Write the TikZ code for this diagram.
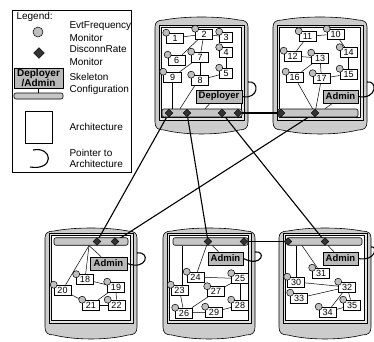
\documentclass[tikz,border=0pt]{standalone}
\usepackage{fontspec}
\setmainfont{Liberation Sans}
\usetikzlibrary{shapes.geometric}
\pgfdeclarelayer{devl}
\pgfdeclarelayer{linel}
\pgfsetlayers{devl,linel,main}
\definecolor{devfill}{gray}{0.80}
\definecolor{bandfill}{gray}{0.90}
\tikzset{
  devline/.style={draw=black, line width=0.6},
  archbox/.style={draw=black, fill=white, line width=0.6, inner sep=0pt, minimum width=17, minimum height=10, font=\fontsize{9}{10}\selectfont},
  evt/.style={circle, draw=black, fill=gray!50, line width=0.5, inner sep=0pt, minimum size=7},
  dis/.style={diamond, draw=black, fill=black!80, inner sep=0pt, minimum size=8},
  cfg/.style={draw=black, fill=gray!55, line width=0.6, inner sep=1pt, minimum height=13, font=\bfseries\fontsize{9.5}{11}\selectfont},
  skbar/.style={draw=black, fill=gray!45, line width=0.6, rounded corners=2, inner sep=0pt, minimum height=8},
  link/.style={line width=0.5},
  xlink/.style={line width=1.1},
  ptr/.style={line width=1.1},
  legtext/.style={anchor=west, align=left, font=\fontsize{10}{13}\selectfont},
}
\newcommand\devbody[6]{%
\draw[devline, fill=devfill] ({#1},{#4-12}) -- ({#1},{#2+10}) .. controls ({#1},{#2+5}) and ({#1+3},{#2+3}) .. ({#1+9},{#2+3}) .. controls ({#1+30},{#2-1}) and ({#3-30},{#2-1}) .. ({#3-9},{#2+3}) .. controls ({#3-3},{#2+3}) and ({#3},{#2+5}) .. ({#3},{#2+10}) -- ({#3},{#4-12}) .. controls ({#3},{#4-6}) and ({#3-3},{#4-4}) .. ({#3-9},{#4-4}) .. controls ({#3-30},{#4+1.3}) and ({#1+30},{#4+1.3}) .. ({#1+9},{#4-4}) .. controls ({#1+3},{#4-4}) and ({#1},{#4-6}) .. cycle;
\draw[devline, fill=bandfill] ({#1+4},{#5}) rectangle ({#3-4},{#6});
\draw[devline, fill=white] ({#1+6.5},{#5+2.5}) rectangle ({#3-6.5},{#6-2.5});
}
\newcommand\archn[4]{\node[archbox] (n#1) at (#2,#3) {#4}; \node[evt] (c#1) at (n#1.north west) {};}
\newcommand\archw[5]{\node[archbox, minimum width=#5] (n#1) at (#2,#3) {#4}; \node[evt] (c#1) at (n#1.north west) {};}
\begin{document}
\begin{tikzpicture}[x=1pt,y=-1pt]
\useasboundingbox (0,0) rectangle (374,341);

% ---------- legend ----------
\draw[line width=0.6] (12,10) rectangle (131,172);
\node[anchor=west, font=\fontsize{10}{12}\selectfont] (lg) at (13,17) {Legend:};
\node[evt, minimum size=10] (lgc) at (38,32) {};
\node[dis, minimum size=11] (lgd) at (39,53) {};
\node[cfg, minimum width=49, minimum height=20, align=center, inner sep=0pt, font=\bfseries\fontsize{10}{10}\selectfont] (lgcfg) at (38.5,78) {Deployer\\/Admin};
\node[skbar, minimum width=49, minimum height=6] (lgbar) at (38.5,96) {};
\draw[link] (lgcfg) -- (lgbar);
\node[draw, line width=0.6, minimum width=27, minimum height=32] (lgarch) at (38.5,127) {};
\coordinate (lgp1) at (33,150);
\coordinate (lgp2) at (30,167);
\draw[ptr] (lgp1) .. controls (53,146) and (55,171) .. (lgp2);
\node[legtext] (lt1) at (66,31.5) {EvtFrequency\\Monitor};
\node[legtext] (lt2) at (66,55) {DisconnRate\\Monitor};
\node[legtext, font=\fontsize{10}{12}\selectfont] (lt3) at (66,83.5) {Skeleton\\Configuration};
\node[legtext] (lt4) at (66,127) {Architecture};
\node[legtext, font=\fontsize{10}{11}\selectfont] (lt5) at (66,158) {Pointer to\\Architecture};

% ---------- device bodies ----------
\begin{pgfonlayer}{devl}
\devbody{155}{17}{248}{134}{25}{120}
\devbody{273}{17}{367}{134}{25}{120}
\devbody{45}{228}{137}{339}{233}{323}
\devbody{163}{228}{255}{339}{233}{323}
\devbody{279}{228}{371}{339}{233}{323}
\end{pgfonlayer}

% ---------- bars ----------
\node[skbar, minimum width=80] (barT1) at (202,113) {};
\node[skbar, minimum width=80] (barT2) at (318,113) {};
\node[skbar, minimum width=74, minimum height=7.5] (barB1) at (91,241.5) {};
\node[skbar, minimum width=75, minimum height=7.5] (barB2) at (210.5,241.5) {};
\node[skbar, minimum width=75, minimum height=7.5] (barB3) at (324.5,241.5) {};

% ---------- configuration nodes ----------
\node[cfg, minimum width=46] (cfgT1) at (219,96.5) {Deployer};
\node[cfg, minimum width=35] (cfgT2) at (340.5,96.5) {Admin};
\node[cfg, minimum width=37] (cfgB1) at (108.5,263.5) {Admin};
\node[cfg, minimum width=35] (cfgB2) at (225.5,258.5) {Admin};
\node[cfg, minimum width=35] (cfgB3) at (340.5,258.5) {Admin};

% ---------- diamonds ----------
\node[dis] (dT1a) at (169,113) {};
\node[dis] (dT1b) at (187,113) {};
\node[dis] (dT1c) at (222,113) {};
\node[dis] (dT1d) at (238,113) {};
\node[dis] (dT2a) at (281,113) {};
\node[dis] (dT2b) at (315,113) {};
\node[dis] (dB1a) at (97,241.5) {};
\node[dis] (dB1b) at (115,241.5) {};
\node[dis] (dB2a) at (208,241.5) {};
\node[dis] (dB2b) at (244,241.5) {};
\node[dis] (dB3a) at (288,241.5) {};
\node[dis] (dB3b) at (325,241.5) {};

% ---------- architecture boxes ----------
\archn{1}{175}{38}{1}
\archn{2}{204}{34}{2}
\archw{3}{226}{37}{3}{13}
\archw{4}{226}{52.5}{4}{13}
\archw{5}{226}{73}{5}{13}
\archn{6}{176.5}{60}{6}
\archn{7}{200}{57}{7}
\archn{8}{200}{80}{8}
\archw{9}{172.5}{77}{9}{18}

\archn{11}{307.5}{36.5}{11}
\archn{10}{335.5}{34}{10}
\archn{12}{292.5}{56}{12}
\archn{13}{320}{58}{13}
\archn{14}{348.5}{52.5}{14}
\archn{15}{348.5}{74}{15}
\archn{16}{294.5}{77}{16}
\archn{17}{321.5}{78.5}{17}

\archn{18}{85}{279.5}{18}
\archn{19}{116}{287}{19}
\archn{20}{62.5}{290}{20}
\archn{21}{91}{305}{21}
\archn{22}{116.5}{305}{22}

\archn{24}{195.5}{277}{24}
\archn{25}{240}{278.5}{25}
\archn{23}{179.5}{290}{23}
\archn{27}{216}{291.5}{27}
\archn{28}{240}{305}{28}
\archn{26}{184}{313}{26}
\archn{29}{214}{312}{29}

\archn{31}{321}{273}{31}
\archn{30}{296}{282}{30}
\archn{32}{347}{287}{32}
\archn{33}{299}{298}{33}
\archn{35}{352}{305}{35}
\archn{34}{327.5}{312}{34}

% ---------- connectors ----------
\begin{pgfonlayer}{linel}
% T1
\draw[link] (n1) -- (n2);
\draw[link] (n2) -- (n3);
\draw[link] (n2) -- (n6);
\draw[link] (n2) -- (n7);
\draw[link] (n4) -- (n5);
\draw[link] (n7) -- (n8);
\draw[link] (n7) -- (n9);
\draw[link] (n8) -- (n5);
\draw[link] (n9.south) -- (n9.south |- barT1.north);
\draw[link] ([xshift=-5]n8.south) -- ([xshift=-22]barT1.north);
\draw[link] ([xshift=-9]cfgT1.south) -- ([xshift=3]barT1.north);
% T2
\draw[link] (n11) -- (n10);
\draw[link] (n11) -- (n12);
\draw[link] (n12) -- (n13);
\draw[link] (n13) -- (n16);
\draw[link] (n13) -- (n17);
\draw[link] (n10) -- (n14);
\draw[link] (n14) -- (n15);
\draw[link] (n17) -- (n15);
\draw[link] (n16) -- (dT2b);
\draw[link] (n17) -- (dT2b);
\draw[link] ([xshift=-8]cfgT2.south) -- ([xshift=7]barT2.north);
% B1
\coordinate (pB1) at ([xshift=-2]barB1.south);
\draw[link] (pB1) -- (n20);
\draw[link] (pB1) -- (n18);
\draw[link] (pB1) -- (cfgB1);
\draw[link] (n18) -- (n19);
\draw[link] (n20) -- (n21);
\draw[link] (n21) -- (n22);
\draw[link] (n19) -- (n22);
\draw[link] (n19) -- (n21);
% B2
\draw[link] ([xshift=2.5]n23.north) -- ([xshift=2.5]n23.north |- barB2.south);
\draw[link] (dB2a) -- (n24);
\draw[link] (dB2a) -- (cfgB2);
\draw[link] (n24) -- (n25);
\draw[link] (n23) -- (n26);
\draw[link] (n26) -- (n29);
\draw[link] (n26) -- (n27);
\draw[link] (n29) -- (n28);
\draw[link] (n25) -- (n28);
\draw[link] (n27) -- (n25);
% B3
\draw[link] (n30.north) -- (n30.north |- barB3.south);
\draw[link] ([xshift=-22.5]barB3.south) -- (n31);
\draw[link] ([xshift=3.5]barB3.south) -- (cfgB3);
\draw[link] (n30) -- (n32);
\draw[link] (n33) -- (n32);
\draw[link] (n32) -- (n34);
\draw[link] (n32) -- (n35);
\draw[link] (n34) -- (n35);
% between devices
\draw[xlink] (dT1a) -- (dB1a);
\draw[xlink] (dT1b) -- (dB2a);
\draw[xlink] (dT1c) -- (dB3b);
\draw[xlink] (dT2b) -- (dB1b);
\draw[xlink] (dT1d) -- (dT2a);
\draw[xlink] (dB2b) -- (dB3a);
% pointers to architecture
\coordinate (qT1) at (248,82);
\coordinate (qT2) at (367,82);
\coordinate (qB1) at (137,253);
\coordinate (qB2) at (255,252);
\coordinate (qB3) at (371,247);
\draw[ptr] (cfgT1.east) .. controls (259,100) and (260,80) .. (qT1);
\draw[ptr] (cfgT2.east) .. controls (377,100) and (378,80) .. (qT2);
\draw[ptr] (cfgB1.east) .. controls (147,271) and (151,251) .. (qB1);
\draw[ptr] (cfgB2.east) .. controls (263,268) and (266,250) .. (qB2);
\draw[ptr] (cfgB3.east) .. controls (376,262) and (378,245) .. (qB3);
\end{pgfonlayer}
\end{tikzpicture}
\end{document}
